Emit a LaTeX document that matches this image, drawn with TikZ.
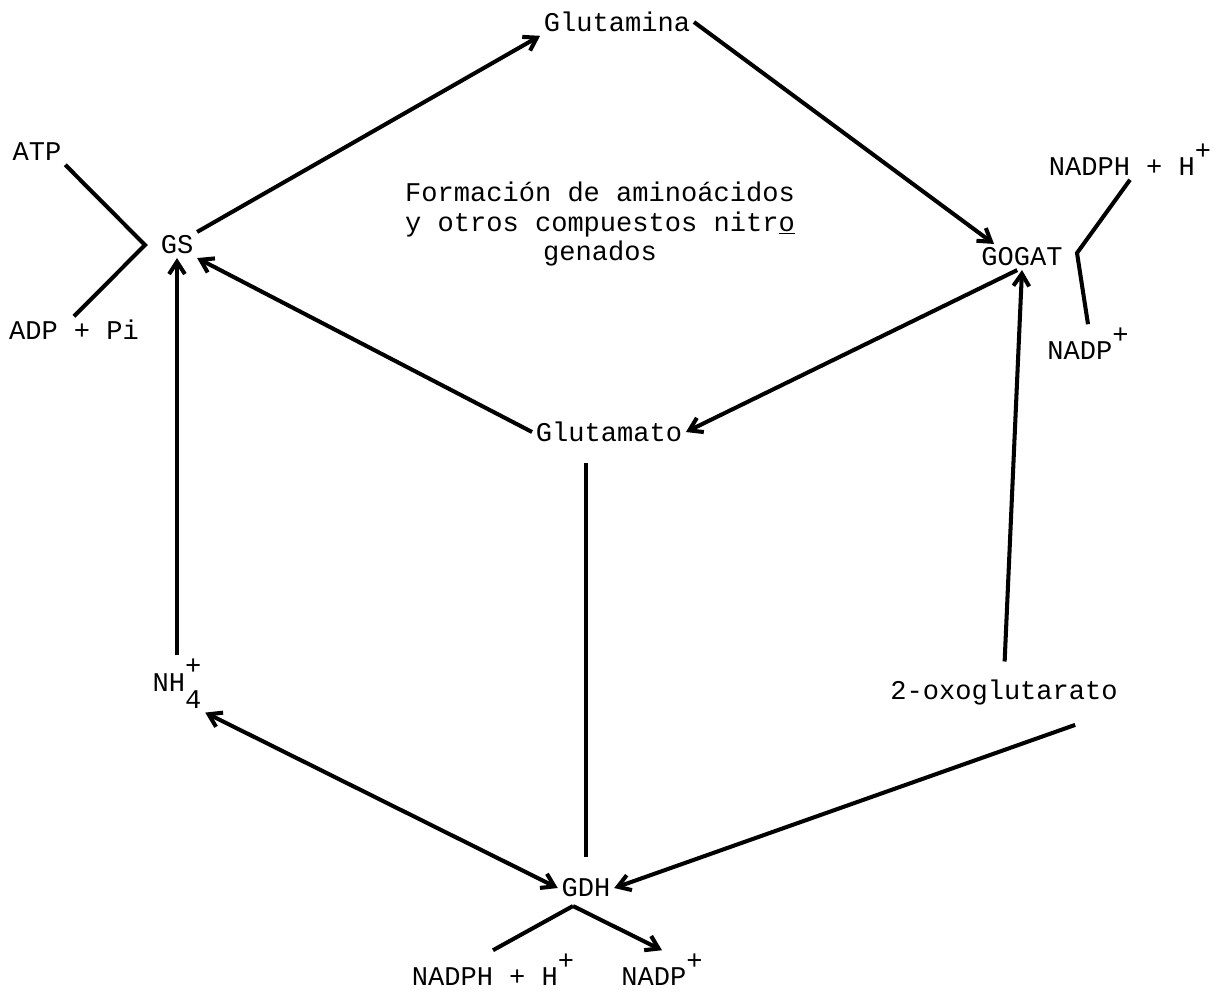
\documentclass[tikz,border=0pt]{standalone}
\usepackage{fontspec}
\setmainfont{Liberation Mono}
\usetikzlibrary{arrows.meta}
\begin{document}
\begin{tikzpicture}[x=0.02cm, y=-0.02cm,
  >={Straight Barb[length=7pt,width=9pt]},
  chem/.style={inner sep=2pt, font=\fontsize{15.4}{17}\selectfont},
  react/.style={->, line width=2.3pt},
  link/.style={-, line width=2.3pt}]
\useasboundingbox (0,0) rectangle (1229,994);
\node[chem] (glutamina) at (617,22) {Glutamina};
\node[chem] (gs) at (177,245) {GS};
\node[chem] (gogat) at (1022,257) {GOGAT};
\node[chem] (glutamato) at (609,432) {Glutamato};
\node[chem] (nh) at (177,684) {NH\rlap{\raisebox{.6em}{+}}\raisebox{-.65em}{4}};
\node[chem] (oxo) at (1004,692) {2-oxoglutarato};
\node[chem] (gdh) at (586,888) {GDH};
\node[chem] (atp) at (37,152) {ATP};
\node[chem] (adp) at (74,330) {ADP + Pi};
\node[chem] (nadphr) at (1130,160) {NADPH + H\raisebox{.6em}{+}};
\node[chem] (nadpr) at (1088,344) {NADP\raisebox{.6em}{+}};
\node[chem] (nadphb) at (493,970) {NADPH + H\raisebox{.6em}{+}};
\node[chem] (nadpb) at (662,970) {NADP\raisebox{.6em}{+}};
\node[chem, align=center] (formacion) at (600,224) {Formación de aminoácidos\\y otros compuestos nitr\underline{o}\\genados};
\coordinate (gsv) at (145,245);
\coordinate (gogatv) at (1077,253);
\coordinate (gdhv) at (573,906);
% ciclo GS-GOGAT
\path [react] (gs.north east) edge (glutamina.south west);
\path [react] (glutamina.east) edge (gogat.155);
\path [react] (gogat.250) edge (glutamato.east);
\path [react] (glutamato.west) edge (gs.south east);
\path [react] (nh.north) edge (gs.south);
\path [react, shorten <=8pt] (oxo.north) edge (gogat.south);
% via GDH
\path [react, <->] (nh.south east) edge (gdh.west);
\path [react, shorten <=28pt] (oxo.south east) edge (gdh.east);
\path [link, shorten <=10pt, shorten >=10pt] (glutamato.south -| gdh.north) edge (gdh.north);
% cofactores
\draw [link] (atp.south east) -- (gsv) -- (adp.north);
\draw [link] (nadphr.south) -- (gogatv) -- (nadpr.north);
\draw [link] (nadphb.north) -- (gdhv);
\path [react] (gdhv) edge (nadpb.north);
\end{tikzpicture}
\end{document}
